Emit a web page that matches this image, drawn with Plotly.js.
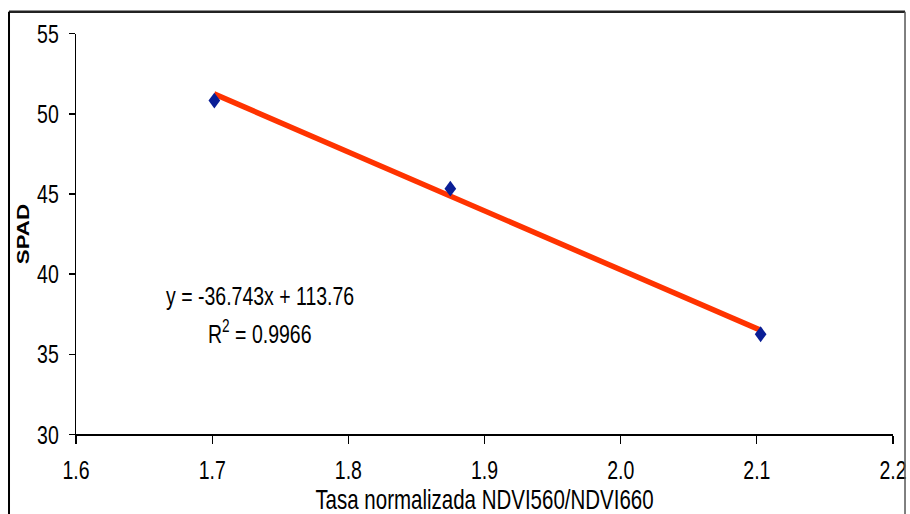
<!DOCTYPE html>
<html>
<head>
<meta charset="utf-8">
<script src="https://cdn.plot.ly/plotly-3.0.1.min.js"></script>
<style>
html,body{margin:0;padding:0;background:#fff;}
#wrap{width:910px;height:514px;position:relative;}
/* the reference picture is stretched vertically; reproduce that aspect */
#chart{position:absolute;left:0;top:0;width:910px;height:381px;transform:scaleY(1.3491);transform-origin:0 0;}
</style>
</head>
<body>
<div id="wrap"><div id="chart"></div></div>
<script>
// Data
const ratioX = [1.7016, 1.8749, 2.1028];
const spadY = [50.83, 45.33, 36.25];
const slope = -36.743;
const intercept = 113.76;
const rSquared = 0.9966;
const xTicks = [1.6, 1.7, 1.8, 1.9, 2.0, 2.1, 2.2];
const xTickText = ["1.6", "1.7", "1.8", "1.9", "2.0", "2.1", "2.2"];
const yTicks = [30, 35, 40, 45, 50, 55];

const lineX = [Math.min(...ratioX), Math.max(...ratioX)];
const lineY = lineX.map(x => slope * x + intercept);

const font = "Liberation Sans, Arial, sans-serif";

const traces = [
  {
    x: lineX, y: lineY, type: "scatter", mode: "lines",
    line: {color: "#FF3300", width: 4.2}, hoverinfo: "skip"
  },
  {
    x: ratioX, y: spadY, type: "scatter", mode: "markers",
    marker: {symbol: "diamond", size: 9, color: "#0A1E96"}
  }
];

const layout = {
  width: 910, height: 381,
  margin: {l: 76, r: 17, t: 25.2, b: 59.3},
  paper_bgcolor: "#ffffff", plot_bgcolor: "#ffffff",
  showlegend: false,
  font: {family: font, color: "#000", size: 19},
  xaxis: {
    range: [1.6, 2.2], tickvals: xTicks, ticktext: xTickText,
    showgrid: false, zeroline: false, showline: true, linecolor: "#000", linewidth: 1,
    ticks: "outside", ticklen: 6.4, tickcolor: "#000", tickwidth: 1.3,
    ticklabelstandoff: 2,
    tickfont: {family: font, size: 19.5, color: "#000"},
    title: {text: "Tasa normalizada NDVI560/NDVI660", font: {family: font, size: 20.5, color: "#000"}, standoff: 0}
  },
  yaxis: {
    range: [30, 55], tickvals: yTicks,
    showgrid: false, zeroline: false, showline: true, linecolor: "#000", linewidth: 1.3,
    ticks: "outside", ticklen: 6, tickcolor: "#000", tickwidth: 1,
    ticklabelstandoff: 6,
    tickfont: {family: font, size: 19.5, color: "#000"},
    title: {text: "<b>SPAD</b>", font: {family: font, size: 16.5, color: "#000"}, standoff: 3}
  },
  annotations: [
    {x: 0.225, y: 0.3475, xref: "paper", yref: "paper", xanchor: "center", yanchor: "middle", showarrow: false,
     text: "y = -36.743x + 113.76", font: {family: font, size: 19.5, color: "#000"}},
    {x: 0.225, y: 0.255, xref: "paper", yref: "paper", xanchor: "center", yanchor: "middle", showarrow: false,
     text: "R<sup>2</sup> = " + rSquared.toFixed(4), font: {family: font, size: 19.5, color: "#000"}}
  ],
  shapes: [
    {type: "line", xref: "paper", yref: "paper", x0: -0.082, x1: 1.0147, y0: 1.055, y1: 1.055,
     line: {color: "#222", width: 1.9}},
    {type: "line", xref: "paper", yref: "paper", x0: -0.082, x1: -0.082, y0: 1.055, y1: -0.3,
     line: {color: "#000", width: 2}},
    {type: "line", xref: "paper", yref: "paper", x0: 1.0147, x1: 1.0147, y0: 1.055, y1: -0.3,
     line: {color: "#555", width: 1.5}}
  ]
};

Plotly.newPlot("chart", traces, layout, {displayModeBar: false, staticPlot: true});
</script>
</body>
</html>
